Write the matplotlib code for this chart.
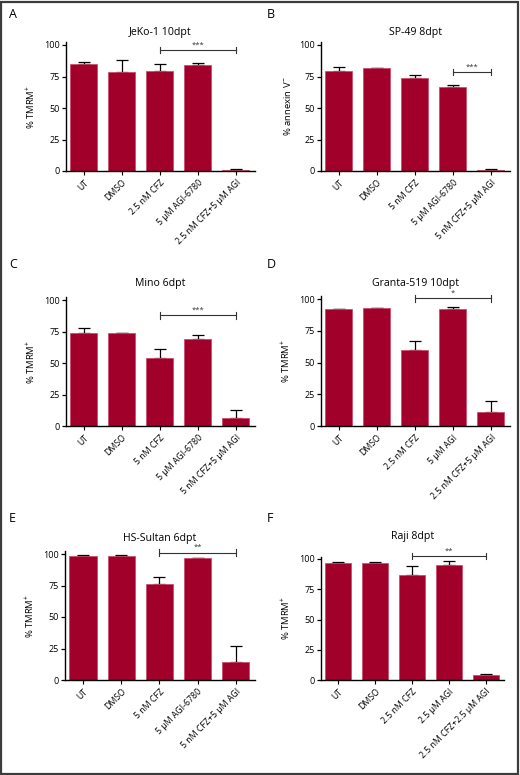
import numpy as np
import matplotlib
matplotlib.use('Agg')
import matplotlib.pyplot as plt
from matplotlib.patches import Rectangle

plt.rcParams['font.family'] = ['Open Sans', 'DejaVu Sans']
plt.rcParams['mathtext.fontset'] = 'custom'
plt.rcParams['mathtext.rm'] = 'Open Sans'
plt.rcParams['mathtext.it'] = 'Open Sans:italic'
plt.rcParams['mathtext.bf'] = 'Open Sans:bold'

# 各面板数据
panel_letters = ['A', 'B', 'C', 'D', 'E', 'F']
titles = ['JeKo-1 10dpt', 'SP-49 8dpt', 'Mino 6dpt',
          'Granta-519 10dpt', 'HS-Sultan 6dpt', 'Raji 8dpt']
ylabels = ['% TMRM$^{+}$', '% annexin V$^{-}$', '% TMRM$^{+}$',
           '% TMRM$^{+}$', '% TMRM$^{+}$', '% TMRM$^{+}$']

labels_A = ['UT', 'DMSO', '2.5 nM CFZ', '5 µM AGI-6780', '2.5 nM CFZ+5 µM AGI']
labels_B = ['UT', 'DMSO', '5 nM CFZ', '5 µM AGI-6780', '5 nM CFZ+5 µM AGI']
labels_C = ['UT', 'DMSO', '5 nM CFZ', '5 µM AGI-6780', '5 nM CFZ+5 µM AGI']
labels_D = ['UT', 'DMSO', '2.5 nM CFZ', '5 µM AGI', '2.5 nM CFZ+5 µM AGI']
labels_E = ['UT', 'DMSO', '5 nM CFZ', '5 µM AGI-6780', '5 nM CFZ+5 µM AGI']
labels_F = ['UT', 'DMSO', '2.5 nM CFZ', '2.5 µM AGI', '2.5 nM CFZ+2.5 µM AGI']

means_A = [84.7, 78.8, 79.6, 83.9, 1.0]
means_B = [79.6, 81.5, 73.5, 66.4, 1.0]
means_C = [73.5, 73.5, 54.0, 69.2, 6.6]
means_D = [91.8, 92.6, 59.5, 91.8, 11.3]
means_E = [98.7, 98.7, 75.8, 96.8, 14.0]
means_F = [96.7, 97.0, 87.1, 94.8, 3.8]

err_A = [2.1, 9.2, 5.1, 1.5, 0.5]
err_B = [3.2, 0.5, 2.7, 1.9, 0.5]
err_C = [4.5, 0.5, 7.5, 2.9, 6.1]
err_D = [0.6, 0.6, 7.3, 1.6, 8.4]
err_E = [0.5, 0.4, 6.3, 0.3, 12.6]
err_F = [0.8, 0.8, 6.9, 3.8, 1.4]

# 显著性标注: (起始组, 结束组, 高度, 星号)
sig_start = [2, 3, 2, 2, 2, 2]
sig_end = [4, 4, 4, 4, 4, 4]
sig_height = [96, 78.6, 87.8, 100.5, 101, 102.5]
sig_text = ['***', '***', '***', '*', '**', '**']

all_labels = [labels_A, labels_B, labels_C, labels_D, labels_E, labels_F]
all_means = [means_A, means_B, means_C, means_D, means_E, means_F]
all_errs = [err_A, err_B, err_C, err_D, err_E, err_F]

# 像素布局: 左, 右, y=0 位置, y=100 位置
W, H = 520, 775
rects_px = [(66, 255, 171, 45), (321, 510, 171, 45),
            (66, 255, 426, 300), (321, 510, 426, 299),
            (65, 255, 680, 554), (321, 504, 680, 559)]
title_y = [33, 33, 283, 283, 538, 537]
letter_pos = [(9, 15), (267, 15), (9, 265), (267, 265), (9, 518), (267, 518)]

bar_color = '#A1002B'
edge_color = '#C9506C'
ytop = 102

fig = plt.figure(figsize=(W / 100, H / 100), dpi=100)

for k in range(6):
    l, r, y0, y100 = rects_px[k]
    ppu = (y0 - y100) / 100.0
    top = y0 - ytop * ppu
    ax = fig.add_axes([l / W, 1 - y0 / H, (r - l) / W, (y0 - top) / H])
    x = np.arange(5)
    ax.bar(x, all_means[k], width=0.71, color=bar_color,
           edgecolor=edge_color, linewidth=0.6, zorder=2)
    ax.errorbar(x, all_means[k], yerr=[np.zeros(5), all_errs[k]], fmt='none',
                ecolor='black', elinewidth=0.9, capsize=4.5, capthick=0.9, zorder=1)
    ax.set_xlim(-0.47, 4.5)
    ax.set_ylim(0, ytop)
    ax.set_yticks([0, 25, 50, 75, 100])
    ax.set_xticks(x)
    ax.set_xticklabels(all_labels[k], rotation=45, ha='right',
                       rotation_mode='anchor', fontsize=6.3)
    ax.tick_params(axis='y', labelsize=6.5, length=3, width=0.9, pad=1.5)
    ax.tick_params(axis='x', length=3, width=0.8, pad=2)
    for s in ['top', 'right']:
        ax.spines[s].set_visible(False)
    for s in ['left', 'bottom']:
        ax.spines[s].set_linewidth(1.0)
    ax.set_ylabel(ylabels[k], fontsize=6.8, labelpad=4)

    # 显著性横线
    xs, xe, hy = sig_start[k], sig_end[k], sig_height[k]
    tick_h = 2.6
    ax.plot([xs, xe], [hy, hy], color='#333333', lw=0.8, clip_on=False)
    ax.plot([xs, xs], [hy - tick_h, hy + tick_h], color='#333333', lw=0.8, clip_on=False)
    ax.plot([xe, xe], [hy - tick_h, hy + tick_h], color='#333333', lw=0.8, clip_on=False)
    ax.text((xs + xe) / 2, hy + 1.2, sig_text[k], ha='center', va='bottom',
            fontsize=5.5, color='#333333', clip_on=False)

    fig.text((l + r) / 2 / W, 1 - title_y[k] / H, titles[k], ha='center',
             va='center', fontsize=7.6)
    lx, ly = letter_pos[k]
    fig.text(lx / W, 1 - ly / H, panel_letters[k], ha='left', va='center',
             fontsize=9)

# 外框
fig.patches.append(Rectangle((0.001, 0.001), 0.995, 0.997, transform=fig.transFigure,
                             fill=False, edgecolor='#3c3c3c', linewidth=1.6))

plt.savefig('out.png', dpi=100)
plt.close()
